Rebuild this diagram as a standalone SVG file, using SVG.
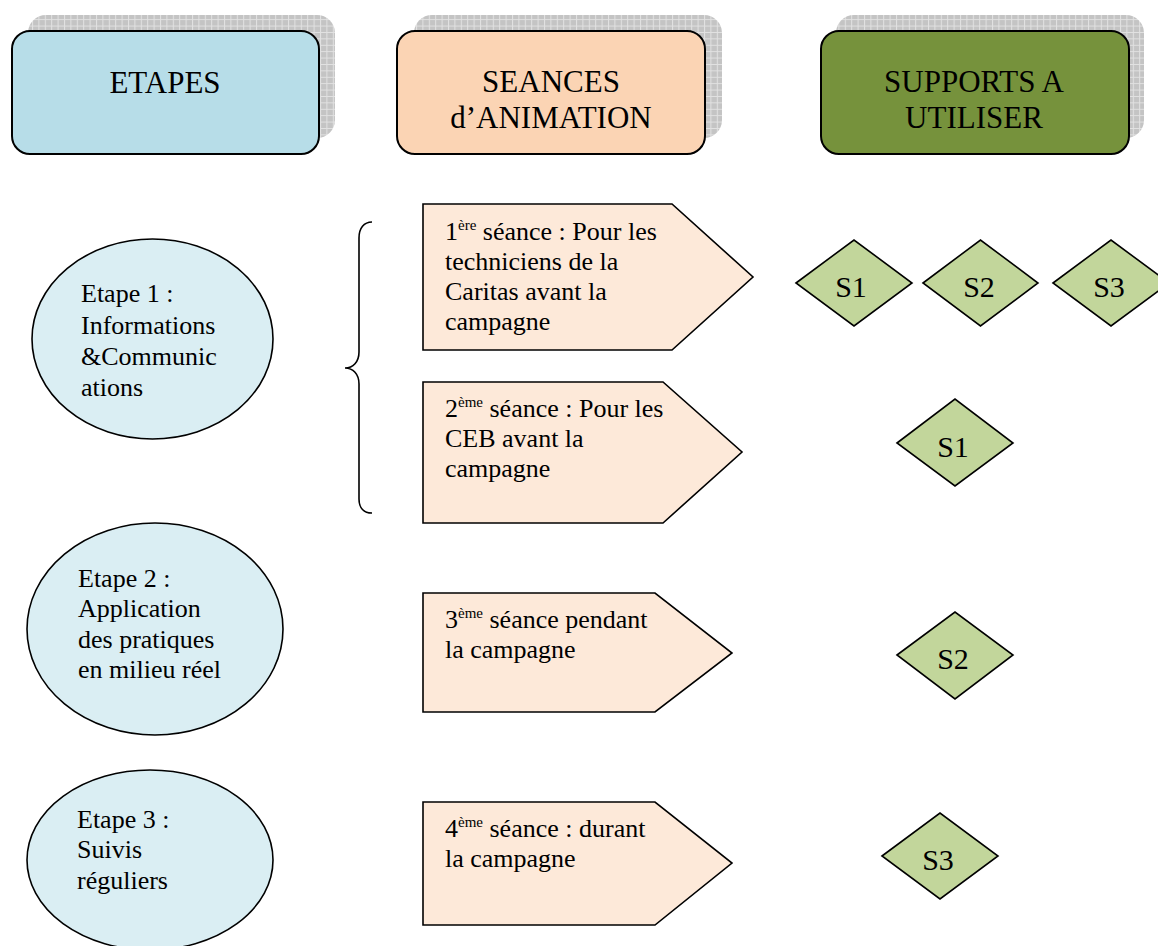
<svg xmlns="http://www.w3.org/2000/svg" width="1158" height="946" viewBox="0 0 1158 946">
<defs>
<pattern id="grid" width="6.4" height="6.4" patternUnits="userSpaceOnUse">
<rect width="6.4" height="6.4" fill="#c4c4c4"/>
<path d="M0 0.5H6.4M0.5 0V6.4" stroke="#e2e2e2" stroke-width="1"/>
</pattern>
</defs>
<style>
text{font-family:"Liberation Serif","Times New Roman",serif;fill:#000}
.hdr{font-size:31px;text-anchor:middle}
.body{font-size:26px}
.sup{font-size:15px}
.dtxt{font-size:30px;text-anchor:middle}
.shadow{fill:url(#grid);stroke:none}
.box{stroke:#000;stroke-width:2}
.ell{fill:#daeef3;stroke:#000;stroke-width:1.6}
.pent{fill:#fde9d9;stroke:#000;stroke-width:1.6}
.dia{fill:#c2d69b;stroke:#000;stroke-width:1.6}
.brace{fill:none;stroke:#000;stroke-width:1.6}
</style>
<rect width="1158" height="946" fill="#fff"/>

<g id="hdr-etapes">
<rect class="shadow" x="28" y="15" width="307" height="123" rx="18"/>
<rect class="box" x="12" y="31" width="307" height="123" rx="18" fill="#b7dde8"/>
<text class="hdr" x="165" y="93">ETAPES</text>
</g>
<g id="hdr-seances">
<rect class="shadow" x="414" y="15" width="308" height="123" rx="18"/>
<rect class="box" x="397" y="31" width="308" height="123" rx="18" fill="#fbd4b4"/>
<text class="hdr" x="551" y="92">SEANCES</text>
<text class="hdr" x="551" y="128">d’ANIMATION</text>
</g>
<g id="hdr-supports">
<rect class="shadow" x="836" y="15" width="308" height="123" rx="18"/>
<rect class="box" x="821" y="31" width="308" height="123" rx="18" fill="#76923c"/>
<text class="hdr" x="974" y="92">SUPPORTS A</text>
<text class="hdr" x="974" y="128">UTILISER</text>
</g>

<g id="etape1">
<ellipse class="ell" cx="152.5" cy="339" rx="120.5" ry="100"/>
<text class="body" x="81" y="302">Etape 1 :</text>
<text class="body" x="81" y="334">Informations</text>
<text class="body" x="81" y="365">&amp;Communic</text>
<text class="body" x="81" y="396">ations</text>
</g>
<g id="etape2">
<ellipse class="ell" cx="155" cy="629" rx="128" ry="106"/>
<text class="body" x="78" y="587">Etape 2 :</text>
<text class="body" x="78" y="617">Application</text>
<text class="body" x="78" y="648">des pratiques</text>
<text class="body" x="78" y="678">en milieu réel</text>
</g>
<g id="etape3">
<ellipse class="ell" cx="150" cy="860" rx="123" ry="90"/>
<text class="body" x="77" y="828">Etape 3 :</text>
<text class="body" x="77" y="858">Suivis</text>
<text class="body" x="77" y="889">réguliers</text>
</g>

<g id="connectors">
<path class="brace" d="M372 222 C364 222 359 228 359 238 L359 352 C359 362 353 368 345 368 C353 368 359 374 359 384 L359 499 C359 508 364 513 372 513"/>
</g>

<g id="seance1">
<polygon class="pent" points="423,204 672,204 753,277 672,350 423,350"/>
<text class="body" x="445" y="240">1<tspan class="sup" dy="-10">ère</tspan><tspan dy="10"> séance : Pour les</tspan></text>
<text class="body" x="445" y="270">techniciens de la</text>
<text class="body" x="445" y="300">Caritas avant la</text>
<text class="body" x="445" y="330">campagne</text>
</g>
<g id="seance2">
<polygon class="pent" points="423,382 663,382 742,452 663,523 423,523"/>
<text class="body" x="445" y="417">2<tspan class="sup" dy="-10">ème</tspan><tspan dy="10"> séance : Pour les</tspan></text>
<text class="body" x="445" y="447">CEB avant la</text>
<text class="body" x="445" y="477">campagne</text>
</g>
<g id="seance3">
<polygon class="pent" points="423,593 655,593 732,653 655,712 423,712"/>
<text class="body" x="445" y="628">3<tspan class="sup" dy="-10">ème</tspan><tspan dy="10"> séance pendant</tspan></text>
<text class="body" x="445" y="658">la campagne</text>
</g>
<g id="seance4">
<polygon class="pent" points="423,802 655,802 732,863 655,925 423,925"/>
<text class="body" x="445" y="837">4<tspan class="sup" dy="-10">ème</tspan><tspan dy="10"> séance : durant</tspan></text>
<text class="body" x="445" y="867">la campagne</text>
</g>

<g id="s1-row1">
<polygon class="dia" points="796,283 854,240 912,283 854,326"/>
<text class="dtxt" x="851" y="297">S1</text>
</g>
<g id="s2-row1">
<polygon class="dia" points="923,283 980.5,240 1038,283 980.5,326"/>
<text class="dtxt" x="979" y="297">S2</text>
</g>
<g id="s3-row1">
<polygon class="dia" points="1053,283 1111,240 1169,283 1111,326"/>
<text class="dtxt" x="1109" y="297">S3</text>
</g>
<g id="s1-row2">
<polygon class="dia" points="897,443 955,399 1013,443 955,486"/>
<text class="dtxt" x="953" y="457">S1</text>
</g>
<g id="s2-row3">
<polygon class="dia" points="897,655 955,612 1013,655 955,699"/>
<text class="dtxt" x="953" y="669">S2</text>
</g>
<g id="s3-row4">
<polygon class="dia" points="882,856 940,813 998,856 940,899"/>
<text class="dtxt" x="938" y="870">S3</text>
</g>
</svg>
